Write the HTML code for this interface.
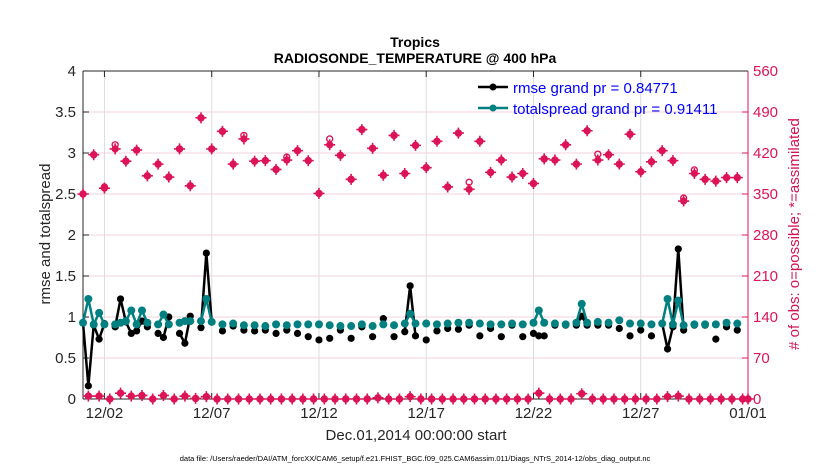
<!DOCTYPE html>
<html><head><meta charset="utf-8"><style>
html,body{margin:0;padding:0;background:#fff;}
svg{display:block;font-family:"Liberation Sans",sans-serif;}
</style></head><body>
<svg id="chart" width="830" height="470" viewBox="0 0 830 470" xmlns="http://www.w3.org/2000/svg">
<g id="grid"></g>
<g id="axes"></g>
<g id="marks"></g>
<text x="415" y="47" text-anchor="middle" font-size="14" font-weight="bold">Tropics</text>
<text x="415" y="63" text-anchor="middle" font-size="14" font-weight="bold">RADIOSONDE_TEMPERATURE @ 400 hPa</text>
<text transform="translate(50,234) rotate(-90)" text-anchor="middle" font-size="15" fill="#262626">rmse and totalspread</text>
<text transform="translate(799,234) rotate(-90)" text-anchor="middle" font-size="15" fill="#d11453"># of obs: o=possible; *=assimilated</text>
<text x="416" y="440" text-anchor="middle" font-size="15" fill="#262626">Dec.01,2014 00:00:00 start</text>
<text x="415" y="461" text-anchor="middle" font-size="7.5" fill="#000">data file: /Users/raeder/DAI/ATM_forcXX/CAM6_setup/f.e21.FHIST_BGC.f09_025.CAM6assim.011/Diags_NTrS_2014-12/obs_diag_output.nc</text>
<g>
  <line x1="478" y1="87" x2="508" y2="87" stroke="#000" stroke-width="2.5"/>
  <circle cx="493" cy="87" r="3.5" fill="#000"/>
  <text x="513" y="93" font-size="15" fill="#0000ff">rmse grand pr = 0.84771</text>
  <line x1="478" y1="108" x2="508" y2="108" stroke="#008080" stroke-width="2.5"/>
  <circle cx="493" cy="108" r="3.5" fill="#008080"/>
  <text x="513" y="114" font-size="15" fill="#0000ff">totalspread grand pr = 0.91411</text>
</g>
</svg>
<script>
// quarter-day samples, day 0..31
const rmse = [
.93,.16,.90,.73, .92,null,.88,1.22, .94,.80,.83,.95, .88,null,.80,.75,
1.0,null,.80,.68, 1.01,null,.87,1.78, .94,null,.83,null, .89,null,.84,null,
.83,null,.84,null, .80,null,.84,null, .80,null,.76,null, .72,null,.74,null,
.84,null,.74,null, .88,null,.76,null, .98,null,.76,null, .82,1.38,.77,null,
.72,null,.83,null, .86,null,.85,null, .90,null,.77,null, .86,null,.76,null,
.90,null,.76,null, .80,.77,.77,null, .90,null,.90,null, .90,1.01,.90,null,
.90,null,.90,null, .86,null,.77,null, .84,null,.77,null, .92,.61,.88,1.83,
.84,null,.90,null, .90,null,.73,null, .88,null,.84,null, null];
const spread = [
.93,1.22,.91,1.05, .91,null,.91,.93, .95,1.08,.91,1.08, .93,null,.91,1.03,
.91,null,.93,.95, .95,null,.95,1.22, .94,null,.91,null, .92,null,.90,null,
.90,null,.89,null, .91,null,.90,null, .91,null,.91,null, .91,null,.90,null,
.89,null,.89,null, .91,null,.89,null, .91,null,.90,null, .92,1.04,.92,null,
.92,null,.91,null, .92,null,.93,null, .93,null,.92,null, .91,null,.91,null,
.92,null,.91,null, .93,1.08,.93,null, .92,null,.91,null, .93,1.16,.93,null,
.94,null,.93,null, .96,null,.92,null, .92,null,.91,null, .92,1.22,.91,1.20,
.90,null,.91,null, .91,null,.91,null, .93,null,.92,null, null];
const obsPossible = [
350,5,417,5, 362,0,434,10, 406,5,425,6, 381,0,401,6, 379,0,427,5, 364,1,480,4,
427,0,457,0, 401,0,450,0, 406,0,407,0, 392,0,413,0, 424,0,407,0, 351,0,444,0,
416,0,375,0, 460,0,428,2, 382,0,450,0, 385,4,433,0, 395,0,440,0, 362,0,454,0,
370,0,440,0, 387,0,408,0, 379,0,385,0, 368,10,410,0, 408,0,434,0, 401,9,458,0,
418,0,417,0, 401,0,452,0, 388,0,405,0, 424,4,407,5, 343,0,391,0, 375,0,372,0,
378,0,378,0, 0];
const obsAssim = [
350,5,417,5, 360,0,427,10, 406,5,425,6, 381,0,401,6, 379,0,427,5, 364,1,480,4,
427,0,457,0, 401,0,444,0, 406,0,407,0, 392,0,408,0, 424,0,407,0, 351,0,434,0,
416,0,375,0, 460,0,428,2, 382,0,450,0, 385,4,433,0, 395,0,440,0, 362,0,454,0,
358,0,440,0, 387,0,408,0, 379,0,385,0, 368,10,410,0, 408,0,434,0, 401,9,458,0,
408,0,417,0, 401,0,452,0, 388,0,405,0, 424,4,407,5, 338,0,385,0, 375,0,372,0,
378,0,378,0, 0];
const days = rmse.map((_, i) => i / 4);
const xTickDays = [1, 6, 11, 16, 21, 26, 31];
const xTickLabels = ["12/02", "12/07", "12/12", "12/17", "12/22", "12/27", "01/01"];
const yLeftTicks = [0, 0.5, 1, 1.5, 2, 2.5, 3, 3.5, 4];
const yRightTicks = [0, 70, 140, 210, 280, 350, 420, 490, 560];

const X0 = 83, X1 = 748, Y0 = 399, Y1 = 71;
const xS = d => X0 + d / 31 * (X1 - X0);
const yL = v => Y0 - v / 4 * (Y0 - Y1);
const yR = v => Y0 - v / 560 * (Y0 - Y1);
const NS = "http://www.w3.org/2000/svg";
function mk(parent, tag, attrs) {
  const e = document.createElementNS(NS, tag);
  for (const k in attrs) e.setAttribute(k, attrs[k]);
  parent.appendChild(e);
  return e;
}
const grid = document.getElementById('grid');
const axes = document.getElementById('axes');
const marks = document.getElementById('marks');
const RED = "#dc1456";

yLeftTicks.forEach(v => {
  if (v > 0 && v < 4) {
    const g = mk(grid, 'line', {x1: X0, x2: X1, y1: yL(v), y2: yL(v), stroke: "#f3d3dd", 'stroke-width': 1});
    
    
  }
  const t = mk(axes, 'text', {x: X0 - 7, y: yL(v) + 5, 'text-anchor': 'end', 'font-size': 15, fill: '#262626'});
  t.textContent = String(v);
  
  
  const tk = mk(axes, 'line', {x1: X0, x2: X0 + 6, y1: yL(v), y2: yL(v), stroke: '#262626'});
  
  
});
yRightTicks.forEach(v => {
  const t = mk(axes, 'text', {x: X1 + 5, y: yR(v) + 5, 'font-size': 15, fill: RED});
  t.textContent = String(v);
  
  
  const tk = mk(axes, 'line', {x1: X1 - 6, x2: X1, y1: yR(v), y2: yR(v), stroke: RED});
  
  
});
xTickDays.forEach((d, i) => {
  if (d < 31) {
    const g = mk(grid, 'line', {x1: xS(d), x2: xS(d), y1: Y1, y2: Y0, stroke: "#dcdcdc", 'stroke-width': 1});
    
    
  }
  const t = mk(axes, 'text', {x: xS(d), y: 418, 'text-anchor': 'middle', 'font-size': 15, fill: '#262626'});
  t.textContent = xTickLabels[i];
  
  
  const tk = mk(axes, 'line', {x1: xS(d), x2: xS(d), y1: Y0, y2: Y0 - 6, stroke: '#262626'});
  
  
  const tk2 = mk(axes, 'line', {x1: xS(d), x2: xS(d), y1: Y1, y2: Y1 + 6, stroke: '#262626'});
  
  
});
let a;
a = mk(axes, 'line', {x1: X0, x2: X0, y1: Y1, y2: Y0, stroke: '#262626'});


a = mk(axes, 'line', {x1: X0, x2: X1, y1: Y0, y2: Y0, stroke: '#262626'});


a = mk(axes, 'line', {x1: X0, x2: X1, y1: Y1, y2: Y1, stroke: '#262626'});


a = mk(axes, 'line', {x1: X1, x2: X1, y1: Y1, y2: Y0, stroke: RED});



// obs counts
days.forEach((d, i) => {
  const cx = xS(d);
  const ay = yR(obsAssim[i]);
  const c = mk(marks, 'circle', {cx: cx, cy: ay, r: 3.6, fill: RED});
  
  
  const p = mk(marks, 'path', {d: `M${cx-5.5},${ay}H${cx+5.5}M${cx},${ay-5.5}V${ay+5.5}`, stroke: RED, 'stroke-width': 1.6});
  
  
  const o = mk(marks, 'circle', {cx: cx, cy: yR(obsPossible[i]), r: 3, fill: 'none', stroke: RED, 'stroke-width': 1.4});
  
  
});

function series(vals, color, r, name) {
  let seg = [];
  const segs = [];
  vals.forEach((v, i) => {
    if (v === null) { if (seg.length) segs.push(seg); seg = []; }
    else seg.push([xS(days[i]), yL(v)]);
  });
  if (seg.length) segs.push(seg);
  segs.forEach(s => {
    if (s.length > 1) {
      const pl = mk(marks, 'polyline', {points: s.map(p => p.join(',')).join(' '), fill: 'none', stroke: color, 'stroke-width': 2.5, 'stroke-linejoin': 'round'});
      
      
    }
    s.forEach(p => {
      const c = mk(marks, 'circle', {cx: p[0], cy: p[1], r: r, fill: color});
      
      
    });
  });
}
series(rmse, '#000', 3.6, 'rmse');
series(spread, '#008080', 4, 'totalspread');
</script>
</body></html>
